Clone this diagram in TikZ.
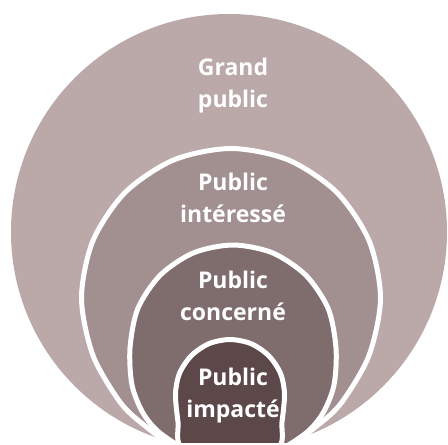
\documentclass[tikz,border=0pt]{standalone}
\usepackage{fontspec}
\setmainfont{Open Sans}
\definecolor{cOuter}{HTML}{BBA8A8}
\definecolor{cSecond}{HTML}{A28F8F}
\definecolor{cThird}{HTML}{7F6C6C}
\definecolor{cInner}{HTML}{5C4848}
\begin{document}
\begin{tikzpicture}[x=1pt,y=-1pt,
  lbl/.style={text=white,font=\bfseries\fontsize{23}{32}\selectfont,align=center,anchor=base,inner sep=0pt},
  ring/.style={draw=white,line width=5pt}]
\useasboundingbox (0,0) rectangle (448,445);
\begin{scope}
  \clip (0,0) rectangle (448,442);
  \fill[cOuter] (229,232) circle[radius=218pt];
  \path[fill=cSecond,ring] plot[smooth cycle] coordinates {
    (81.5,298) (92.9,240.8) (125.3,192.3) (173.8,159.9) (231,148.5)
    (288.2,159.9) (336.7,192.3) (369.1,240.8) (380.5,298) (369.1,355.2)
    (342,402) (318,425) (285,447) (231,454) (177,447) (144,425) (120,402)
    (92.9,355.2)};
  \path[fill=cThird,ring] plot[smooth cycle] coordinates {
    (130,348) (137.8,308.6) (160.2,275.2) (193.6,252.8) (233,245)
    (272.4,252.8) (305.8,275.2) (328.2,308.6) (336,348) (334,385)
    (323,413) (306,433) (274,452) (233,457) (192,452) (160,433) (143,413)
    (132,385)};
  \path[fill=cInner,ring] plot[smooth cycle] coordinates {
    (175.5,394) (179.6,373.1) (191.5,355.5) (209.1,343.6) (230,339.5)
    (250.9,343.6) (268.5,355.5) (280.4,373.1) (284.5,394) (282,422)
    (278,448) (230,462) (182,448) (178,422)};
\end{scope}
\node[lbl] (grand) at (233,107) {Grand\\public};
\node[lbl] (interesse) at (233,222) {Public\\intéressé};
\node[lbl] (concerne) at (233,320) {Public\\concerné};
\node[lbl] (impacte) at (233,417) {Public\\impacté};
\end{tikzpicture}
\end{document}
